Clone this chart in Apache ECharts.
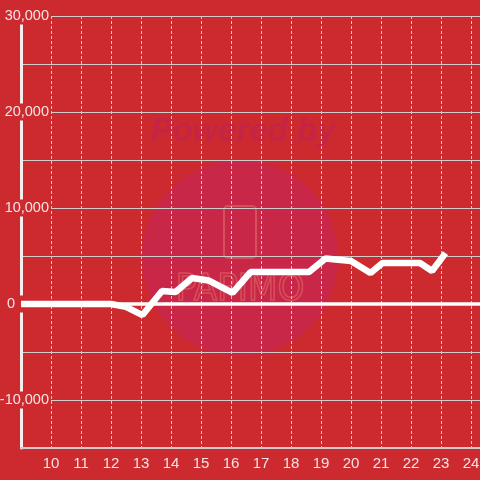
<!DOCTYPE html>
<html>
<head>
<meta charset="utf-8">
<script src="https://cdn.jsdelivr.net/npm/echarts@6/dist/echarts.min.js"></script>
<style>
    html, body { margin: 0; padding: 0; background: #cd2a2f; }
    #chart { width: 480px; height: 480px; }
</style>
</head>
<body>
<div id="chart"></div>
<script>
    // line points
    var xs = [9, 12, 12.5, 13.05, 13.7, 14.15, 14.7, 15.25, 16.05, 16.65, 18.6, 19.15, 20, 20.65, 21.05, 22.3, 22.7, 23.15];
    var ys = [0, 0, -300, -1150, 1350, 1250, 2700, 2450, 1150, 3330, 3330, 4750, 4480, 3230, 4270, 4270, 3440, 5300];
    var yTicks = [-10000, 0, 10000, 20000, 30000];
    var xTicks = [10, 11, 12, 13, 14, 15, 16, 17, 18, 19, 20, 21, 22, 23, 24];

    var bg = '#cd2a2f';
    var textColor = '#f6e3e3';
    var gridColor = '#d2cccc';

    var points = [];
    xs.forEach(function (x, i) {
        points.push([x, ys[i]]);
    });

    var chart = echarts.init(document.getElementById('chart'));
    chart.setOption({
        backgroundColor: bg,
        animation: false,
        textStyle: { fontFamily: 'Liberation Sans' },
        graphic: [
            {
                type: 'circle', z: -5, silent: true,
                shape: { cx: 240, cy: 258, r: 98 },
                style: { fill: '#c92747' }
            },
            {
                type: 'text', z: -5, silent: true,
                style: {
                    x: 243, y: 132, text: 'Powered by', align: 'center', verticalAlign: 'middle',
                    font: 'italic bold 33px "Liberation Sans"', fill: '#c52544'
                }
            },
            {
                type: 'rect', z: -4, silent: true,
                shape: { x: 224, y: 206, width: 32, height: 52, r: 4 },
                style: { fill: 'none', stroke: '#d6505c', lineWidth: 2 }
            },
            {
                type: 'text', z: -4, silent: true,
                style: {
                    x: 240, y: 290, text: 'PAPIMO', align: 'center', verticalAlign: 'middle',
                    font: '38px "DejaVu Sans Condensed"', fill: 'none', stroke: '#d6505c', lineWidth: 1.5
                }
            }
        ],
        grid: { left: 21, right: 0, top: 16, bottom: 32, containLabel: false, outerBoundsMode: 'none' },
        xAxis: {
            type: 'value',
            min: 9,
            max: 24.3,
            interval: 1,
            axisLine: { onZero: false, lineStyle: { color: gridColor, width: 2 } },
            axisTick: { show: false },
            axisLabel: {
                color: textColor, fontSize: 15, margin: 8,
                showMinLabel: false, showMaxLabel: false,
                formatter: function (v) {
                    return xTicks.indexOf(v) >= 0 ? String(v) : '';
                }
            },
            splitLine: { show: true, lineStyle: { color: gridColor, type: [3, 2], width: 1 } }
        },
        yAxis: {
            type: 'value',
            min: -15000,
            max: 30000,
            interval: 5000,
            axisLine: { show: true, lineStyle: { color: '#f4eeee', width: 3 } },
            axisTick: { show: false },
            axisLabel: {
                color: textColor, fontSize: 14.5, margin: -30, align: 'right',
                backgroundColor: bg, padding: [1, 2, 1, 2],
                formatter: function (v) {
                    if (yTicks.indexOf(v) < 0) return '';
                    if (v === 0) return '{z|0}';
                    return echarts.format.addCommas(v);
                },
                rich: { z: { color: textColor, fontSize: 14.5, padding: [0, 34, 0, 0] } }
            },
            splitLine: { show: true, lineStyle: { color: gridColor, width: 1 } }
        },
        series: [
            {
                type: 'line',
                data: points,
                symbol: 'none',
                lineStyle: { color: '#ffffff', width: 6.5 },
                markLine: {
                    silent: true,
                    symbol: 'none',
                    label: { show: false },
                    lineStyle: { color: '#ffffff', width: 3.5, type: 'solid' },
                    data: [{ yAxis: 0 }]
                }
            }
        ]
    });
</script>
</body>
</html>
